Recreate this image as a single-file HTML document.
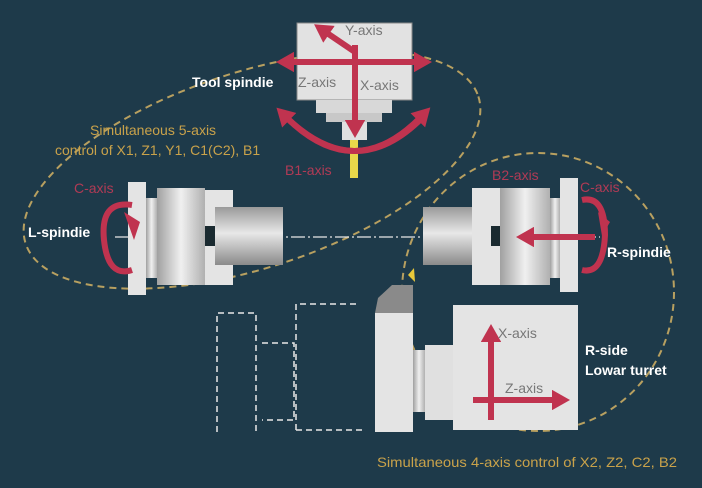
<!DOCTYPE html>
<html><head><meta charset="utf-8"><style>
html,body{margin:0;padding:0;background:#1e3a4a;}
svg{display:block}
text{font-family:"Liberation Sans",sans-serif;}
</style></head><body>
<svg width="702" height="488" viewBox="0 0 702 488" xmlns="http://www.w3.org/2000/svg">
<defs>
<linearGradient id="cyl" x1="0" y1="0" x2="0" y2="1">
<stop offset="0" stop-color="#9a9a9a"/><stop offset="0.45" stop-color="#e8e8e8"/><stop offset="1" stop-color="#8a8a8a"/></linearGradient>
<linearGradient id="cylh" x1="0" y1="0" x2="1" y2="0">
<stop offset="0" stop-color="#a0a0a0"/><stop offset="0.5" stop-color="#f0f0f0"/><stop offset="1" stop-color="#b0b0b0"/></linearGradient>
<marker id="ah" markerWidth="3" markerHeight="3.4" refX="1" refY="1.7" orient="auto" markerUnits="strokeWidth"><path d="M0,0 L3,1.7 L0,3.4 Z" fill="#c0334f"/></marker>
</defs>
<rect width="702" height="488" fill="#1e3a4a"/>

<!-- ellipses -->
<ellipse cx="252" cy="170" rx="238" ry="98" transform="rotate(-18 252 170)" fill="none" stroke="#b8a060" stroke-width="2" stroke-dasharray="7 5"/>
<ellipse cx="538" cy="292" rx="136" ry="139" fill="none" stroke="#b8a060" stroke-width="2" stroke-dasharray="7 5"/>

<!-- tool spindle -->
<rect x="297" y="23" width="115" height="77" fill="#e2e2e2" stroke="#888" stroke-width="1"/>
<rect x="316" y="100" width="76" height="13" fill="#d8d8d8"/>
<rect x="326" y="113" width="56" height="9" fill="#c8c8c8"/>
<rect x="342" y="122" width="25" height="18" fill="#e0e0e0"/>
<rect x="350" y="140" width="8" height="38" fill="#e8d84a"/>
<text x="345" y="35" font-size="14" fill="#777">Y-axis</text>
<text x="298" y="87" font-size="14" fill="#777">Z-axis</text>
<text x="360" y="90" font-size="14" fill="#777">X-axis</text>
<line x1="290" y1="62" x2="420" y2="62" stroke="#c0334f" stroke-width="6" marker-end="url(#ah)"/>
<line x1="420" y1="62" x2="288" y2="62" stroke="#c0334f" stroke-width="6" marker-end="url(#ah)"/>
<line x1="355" y1="45" x2="355" y2="126" stroke="#c0334f" stroke-width="6" marker-end="url(#ah)"/>
<line x1="355" y1="52" x2="324" y2="31" stroke="#c0334f" stroke-width="6" marker-end="url(#ah)"/>
<path d="M287,118 Q355,185 422,116" fill="none" stroke="#c0334f" stroke-width="6" marker-end="url(#ah)"/>
<path d="M422,118 Q355,185 285,116" fill="none" stroke="#c0334f" stroke-width="6" marker-end="url(#ah)"/>
<text x="192" y="87" font-size="14" font-weight="bold" fill="#fff">Tool spindie</text>
<text x="90" y="135" font-size="14" fill="#c9a24a">Simultaneous 5-axis</text>
<text x="55" y="155" font-size="14" fill="#c9a24a">control of X1, Z1, Y1, C1(C2), B1</text>
<text x="285" y="175" font-size="14" fill="#b03a55">B1-axis</text>

<!-- center line -->
<line x1="115" y1="237" x2="600" y2="237" stroke="#e8e8e8" stroke-width="1.2" stroke-dasharray="14 3 2 3"/>

<!-- L spindle -->
<rect x="128" y="182" width="18" height="113" fill="#e4e4e4"/>
<rect x="146" y="198" width="11" height="80" fill="url(#cylh)"/>
<rect x="157" y="188" width="48" height="97" fill="url(#cylh)"/>
<rect x="205" y="190" width="28" height="95" fill="#e4e4e4"/>
<rect x="205" y="226" width="10" height="20" fill="#1a2a30"/>
<rect x="215" y="207" width="68" height="58" fill="url(#cyl)"/>
<path d="M132,205 Q100,200 104,240 Q108,278 132,270" fill="none" stroke="#c0334f" stroke-width="6"/>
<path d="M124,212 L140,222 L134,240 Z" fill="#c0334f"/>
<text x="74" y="193" font-size="14" fill="#b03a55">C-axis</text>
<text x="28" y="237" font-size="14" font-weight="bold" fill="#fff">L-spindie</text>

<!-- R spindle -->
<rect x="423" y="207" width="69" height="58" fill="url(#cyl)"/>
<rect x="472" y="188" width="28" height="97" fill="#e4e4e4"/>
<rect x="491" y="226" width="10" height="20" fill="#1a2a30"/>
<rect x="500" y="188" width="50" height="97" fill="url(#cylh)"/>
<rect x="550" y="198" width="10" height="80" fill="url(#cylh)"/>
<rect x="560" y="178" width="18" height="114" fill="#e4e4e4"/>
<line x1="595" y1="237" x2="528" y2="237" stroke="#c0334f" stroke-width="6" marker-end="url(#ah)"/>
<path d="M582,200 Q605,195 605,235 Q603,275 582,270" fill="none" stroke="#c0334f" stroke-width="6"/>
<path d="M598,212 L610,222 L602,236 Z" fill="#c0334f"/>
<text x="492" y="180" font-size="14" fill="#b03a55">B2-axis</text>
<text x="580" y="192" font-size="14" fill="#b03a55">C-axis</text>
<text x="607" y="257" font-size="14" font-weight="bold" fill="#fff">R-spindie</text>

<!-- dashed outlines -->
<g fill="none" stroke="#e8e8e8" stroke-width="1.5" stroke-dasharray="6 4">
<path d="M217,432 L217,313 L256,313 L256,432"/>
<path d="M262,343 L294,343 L294,420 L262,420"/>
<path d="M296,430 L296,304 L358,304 M296,430 L363,430"/>
</g>

<!-- turret -->
<path d="M375,313 L378,298 L392,285 L413,285 L413,313 Z" fill="#8a8a8a"/>
<path d="M408,275 L414,268 L415,282 Z" fill="#e8c83a"/>
<rect x="375" y="313" width="38" height="119" fill="#e4e4e4"/>
<rect x="413" y="350" width="12" height="62" fill="url(#cylh)"/>
<rect x="425" y="345" width="28" height="75" fill="#e0e0e0"/>
<rect x="453" y="305" width="125" height="125" fill="#e4e4e4"/>
<line x1="491" y1="420" x2="491" y2="336" stroke="#c0334f" stroke-width="6" marker-end="url(#ah)"/>
<line x1="473" y1="400" x2="558" y2="400" stroke="#c0334f" stroke-width="6" marker-end="url(#ah)"/>
<text x="498" y="338" font-size="14" fill="#777">X-axis</text>
<text x="505" y="393" font-size="14" fill="#777">Z-axis</text>
<text x="585" y="355" font-size="14" font-weight="bold" fill="#fff">R-side</text>
<text x="585" y="375" font-size="14" font-weight="bold" fill="#fff">Lowar turret</text>
<text x="377" y="467" font-size="14" fill="#c9a24a" textLength="300" lengthAdjust="spacingAndGlyphs">Simultaneous 4-axis control of X2, Z2, C2, B2</text>
</svg>
</body></html>
